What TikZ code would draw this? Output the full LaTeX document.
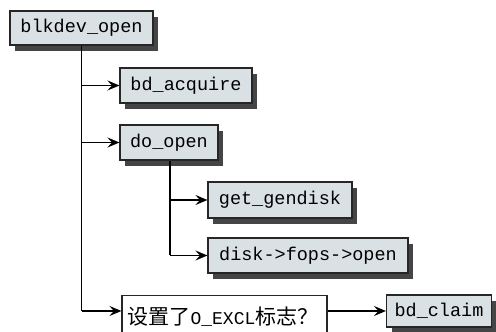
\documentclass[tikz,border=0pt]{standalone}
\usepackage{fontspec}
\setmonofont{Liberation Mono}
\newfontfamily\cjk{Noto Sans CJK SC}
\usetikzlibrary{arrows.meta,shadows}
\definecolor{boxfill}{HTML}{DAE1E5}
\definecolor{shadowgray}{HTML}{454545}
\tikzset{
  fn/.style={draw=black!85, line width=1.1pt, fill=boxfill, inner sep=0pt,
    font=\ttfamily\fontsize{18.5}{20}\selectfont,
    drop shadow={shadow xshift=5pt, shadow yshift=-6pt, fill=shadowgray, opacity=1}},
  cond/.style={draw=black!85, line width=1.1pt, fill=white, inner sep=0pt},
  conn/.style={line width=1.6pt, draw=black},
  arr/.style={conn, arrows={-Stealth[length=12pt, width=10pt, inset=4.5pt]}}
}
\begin{document}
\begin{tikzpicture}[x=1pt,y=1pt]
\useasboundingbox (0,0) rectangle (496,332);
% y measured from top: y_tikz = 332 - y_px
\node[fn, minimum width=143pt, minimum height=34pt] (blk) at (81.5,304) {blkdev\_open};
\node[fn, minimum width=132pt, minimum height=35pt] (acq) at (186,246.5) {bd\_acquire};
\node[fn, minimum width=98pt, minimum height=35pt] (dop) at (169,189.5) {do\_open};
\node[fn, minimum width=144pt, minimum height=36pt] (gen) at (280,132) {get\_gendisk};
\node[fn, minimum width=200pt, minimum height=35pt] (fops) at (308,76.5) {disk->fops->open};
\node[cond, minimum width=205pt, minimum height=60pt, anchor=north] (excl) at (224.5,37)
  {};
\node[anchor=center, inner sep=0pt] (excltext) at (223,15)
  {{\cjk\fontsize{21}{22}\selectfont 设置了}{\ttfamily\fontsize{18}{20}\selectfont O\_EXCL}{\cjk\fontsize{21}{22}\selectfont 标志？}};
\node[fn, minimum width=105pt, minimum height=32pt] (claim) at (439,21) {bd\_claim};
% trunk from blkdev_open
\coordinate (t1) at (blk.south |- acq.west);
\coordinate (t2) at (blk.south |- dop.west);
\coordinate (t3) at (blk.south |- claim.west);
\draw[conn] (blk.south) -- (t3);
\draw[arr] (t1) -- (acq.west);
\draw[arr] (t2) -- (dop.west);
\draw[arr] (t3) -- (t3 -| excl.west);
% from do_open
\coordinate (d1) at ([xshift=1pt]dop.south |- gen.west);
\coordinate (d2) at ([xshift=1pt]dop.south |- fops.west);
\draw[conn] ([xshift=1pt]dop.south) -- (d2);
\draw[arr] (d1) -- (gen.west);
\draw[arr] (d2) -- (fops.west);
% to bd_claim
\draw[arr] (excl.east |- claim.west) -- (claim.west);
\end{tikzpicture}
\end{document}
